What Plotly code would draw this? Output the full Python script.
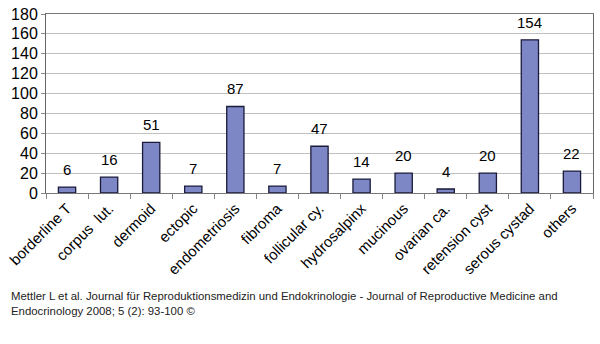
import plotly.graph_objects as go

categories = ["borderline T", "corpus  lut.", "dermoid", "ectopic", "endometriosis",
              "fibroma", "follicular cy.", "hydrosalpinx", "mucinous", "ovarian ca.",
              "retension cyst", "serous cystad", "others"]
values = [6, 16, 51, 7, 87, 7, 47, 14, 20, 4, 20, 154, 22]
y_ticks = [0, 20, 40, 60, 80, 100, 120, 140, 160, 180]
footer = ("Mettler L et al. Journal für Reproduktionsmedizin und Endokrinologie - Journal of Reproductive Medicine and<br>"
          "Endocrinology 2008; 5 (2): 93-100 ©")

FONT = "Liberation Sans, Arial"

fig = go.Figure(go.Bar(
    x=categories, y=values,
    marker=dict(color="#7d87c6", line=dict(color="#1a1a3a", width=1.3)),
    width=0.41,
))

annotations = [dict(
    x=c, y=v, text=str(v), xref="x", yref="y", showarrow=False,
    xanchor="center", yanchor="bottom", yshift=7,
    font=dict(family=FONT, size=15, color="#000"),
) for c, v in zip(categories, values)]

annotations.append(dict(
    text=footer, xref="paper", yref="paper", x=-38/556, y=-(291-193)/184,
    xanchor="left", yanchor="top", align="left", showarrow=False,
    font=dict(family=FONT, size=11.4, color="#222"),
))

fig.update_layout(
    width=600, height=344,
    margin=dict(l=38, r=6, t=9, b=151),
    paper_bgcolor="white", plot_bgcolor="white",
    showlegend=False,
    font=dict(family=FONT, size=15, color="#000"),
    xaxis=dict(
        type="category", tickangle=-45, tickson="boundaries",
        ticks="outside", ticklen=5, tickcolor="#888",
        showline=True, linecolor="#777", linewidth=1, mirror=True,
        tickfont=dict(size=15), showgrid=False,
    ),
    yaxis=dict(
        range=[0, 180], tickvals=y_ticks, ticks="outside", ticklen=4, tickcolor="#888",
        showline=True, linecolor="#666", linewidth=1, mirror=True,
        showgrid=True, gridcolor="#c0c0c0", gridwidth=1,
        tickfont=dict(size=16), zeroline=False,
    ),
    annotations=annotations,
)

fig.write_html("out.html")
